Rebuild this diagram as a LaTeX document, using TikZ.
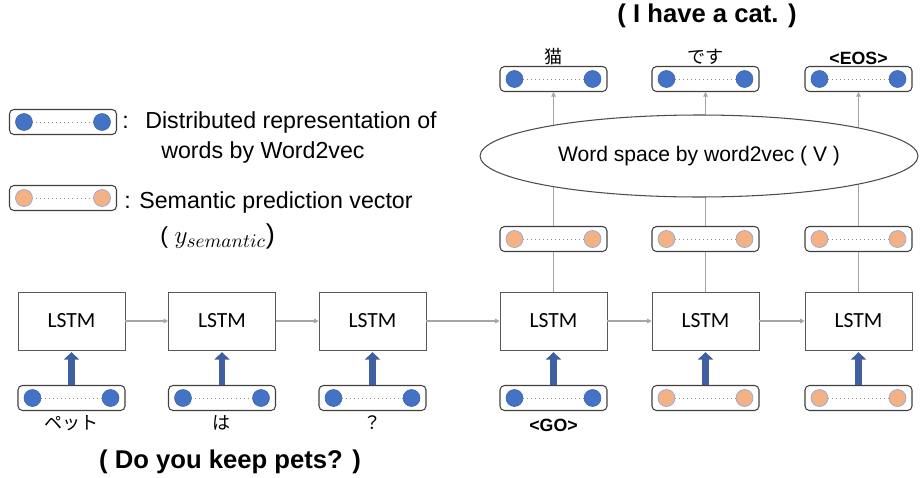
\documentclass[tikz,border=0pt]{standalone}
\usepackage{fontspec}
\setmainfont{Liberation Sans}
\newfontfamily\lstmfont{Carlito}
\newfontfamily\jpfont{Noto Sans CJK JP}
\usetikzlibrary{arrows.meta,shapes.geometric}
\definecolor{wordblue}{HTML}{4472C4}
\definecolor{semorange}{HTML}{F4B183}
\definecolor{fatblue}{HTML}{3F5FA0}
\definecolor{wire}{HTML}{A6A6A6}
\tikzset{
  lstm/.style={draw=black!65, fill=white, minimum width=2.14cm, minimum height=1.16cm, font=\lstmfont\fontsize{12.3}{14}\selectfont},
  vecbox/.style={draw=black!75, rounded corners=2.5pt, line width=0.6pt, minimum width=2.14cm, minimum height=0.5cm, inner sep=0pt},
  bluedot/.style={fill=wordblue, draw=wordblue!85!black, line width=0.3pt},
  orangedot/.style={fill=semorange, draw=wordblue!60, line width=0.4pt},
  dotline/.style={draw=black!45, dotted, line width=0.3pt},
  fatarrow/.style={draw=fatblue, line width=3.8pt, -{Triangle[width=0.3cm,length=0.15cm]}, shorten >=1pt},
  wirearrow/.style={draw=wire, line width=0.6pt, -{Triangle[width=2.6pt,length=2.6pt]}},
  wireline/.style={draw=wire, line width=0.6pt},
  jplabel/.style={font=\jpfont\fontsize{10.3}{12}\selectfont},
  taglabel/.style={font=\bfseries\fontsize{10.1}{12}\selectfont},
  title/.style={font=\bfseries\fontsize{14.6}{17}\selectfont},
  legendtext/.style={anchor=west, font=\fontsize{13.2}{15}\selectfont, inner sep=0pt}
}
% one vector: rounded box with two dots
\newcommand{\wordvec}[3]{%
  \node[vecbox] (#1) at (#2) {};
  \draw[dotline] ([xshift=0.3cm]#1.west) -- ([xshift=-0.3cm]#1.east);
  \draw[#3] ([xshift=0.3cm]#1.west) circle (0.17cm);
  \draw[#3] ([xshift=-0.3cm]#1.east) circle (0.17cm);
}

\begin{document}
\begin{tikzpicture}[x=0.02cm, y=-0.02cm]
\useasboundingbox (0,0) rectangle (922,477);

% legend
\wordvec{lega}{63,122}{bluedot}
\node[legendtext] (cola) at (122,122) {:};
\node[legendtext] (lega1) at (145,122) {Distributed representation of};
\node[legendtext] (lega2) at (161,152) {words by Word2vec};
\wordvec{legb}{63,198}{orangedot}
\node[legendtext] (colb) at (124,202) {:};
\node[legendtext] (legb1) at (139,202) {Semantic prediction vector};
\node[legendtext] (legb2) at (160,236) {(~\fontsize{15.5}{17}\selectfont$y_{semantic}$)};

% LSTM chain
\node[lstm] (l1) at (71.5,321) {LSTM};
\node[lstm] (l2) at (222,321) {LSTM};
\node[lstm] (l3) at (372.5,321) {LSTM};
\node[lstm] (l4) at (553.5,321) {LSTM};
\node[lstm] (l5) at (705.5,321) {LSTM};
\node[lstm] (l6) at (858.5,321) {LSTM};
\foreach \a/\b in {l1/l2,l2/l3,l3/l4,l4/l5,l5/l6}
  \draw[wirearrow] (\a) -- (\b);

% inputs
\wordvec{in1}{71.5,398}{bluedot}
\wordvec{in2}{222,398}{bluedot}
\wordvec{in3}{372.5,398}{bluedot}
\wordvec{in4}{553.5,398}{bluedot}
\wordvec{in5}{705.5,398}{orangedot}
\wordvec{in6}{858.5,398}{orangedot}
\foreach \i in {1,...,6}
  \draw[fatarrow] (in\i) -- (l\i);

\node[jplabel] (w1) at (71.5,423) {ペット};
\node[jplabel] (w2) at (222,423) {は};
\node[jplabel] (w3) at (372.5,423) {？};
\node[taglabel] (w4) at (553.5,425) {<GO>};
\node[title] (src) at (230,462) {( Do you keep pets? )};

% semantic vectors and outputs
\foreach \i/\x in {4/553.5,5/705.5,6/858.5} {
  \wordvec{sv\i}{\x,239}{orangedot}
  \wordvec{out\i}{\x,79}{bluedot}
  \draw[wireline] (l\i) -- (sv\i);
  \draw[wirearrow] (sv\i) -- (out\i);
}
\node[draw=black!70, fill=white, ellipse, line width=0.6pt, minimum width=8.76cm, minimum height=1.64cm, font=\fontsize{12}{14}\selectfont] (space) at (699,156) {Word space by word2vec ( V )};

\node[jplabel] (o4) at (553.5,57) {猫};
\node[jplabel] (o5) at (705.5,57) {です};
\node[taglabel] (o6) at (858.5,58) {<EOS>};
\node[title] (tgt) at (707,16) {( I have a cat. )};
\end{tikzpicture}
\end{document}
